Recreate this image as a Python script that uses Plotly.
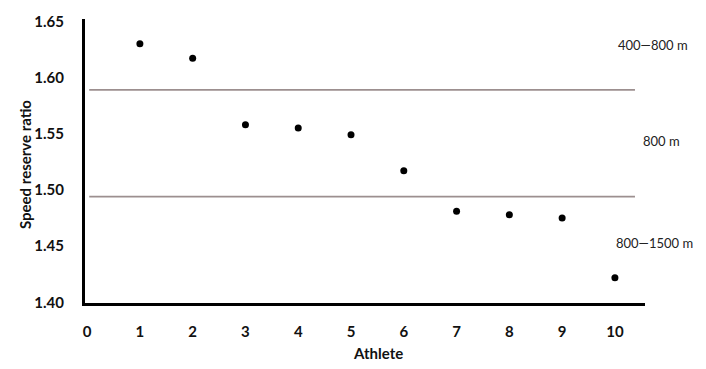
import plotly.graph_objects as go

athletes = [1, 2, 3, 4, 5, 6, 7, 8, 9, 10]
speed_reserve_ratio = [1.630, 1.617, 1.558, 1.555, 1.549, 1.517, 1.481, 1.478, 1.475, 1.422]
thresholds = [1.589, 1.494]
threshold_x = [0.04, 10.38]
x_ticks = [0, 1, 2, 3, 4, 5, 6, 7, 8, 9, 10]
y_ticks = [1.40, 1.45, 1.50, 1.55, 1.60, 1.65]
zone_labels = ["400\u2014800 m", "800 m", "800\u20141500 m"]
zone_label_xpx = [653, 661, 654]
zone_label_ypx = [45, 141, 243]

FONT = "Lato"
L, R, T, B = 85, 61, 19, 66
W, H = 706, 369
pw = W - L - R
ph = H - T - B


def px_x(px):
    return (px - L) / pw


def px_y(py):
    return (H - B - py) / ph


fig = go.Figure()
for t in thresholds:
    fig.add_trace(go.Scatter(x=threshold_x, y=[t, t], mode="lines",
                             line=dict(color="#9c8f8f", width=1.8),
                             showlegend=False, hoverinfo="skip"))
fig.add_trace(go.Scatter(x=athletes, y=speed_reserve_ratio, mode="markers",
                         marker=dict(color="black", size=7),
                         showlegend=False))

for lab, lx, ly in zip(zone_labels, zone_label_xpx, zone_label_ypx):
    fig.add_annotation(x=px_x(lx), y=px_y(ly), text=lab, showarrow=False, xref="paper", yref="paper",
                       xanchor="center", yanchor="middle",
                       font=dict(family=FONT, size=13, color="#222222"))

fig.add_annotation(x=px_x(25), y=px_y(165), xref="paper", yref="paper", text="<b>Speed reserve ratio</b>",
                   textangle=-90, showarrow=False, xanchor="center", yanchor="middle",
                   font=dict(family=FONT, size=15, color="#111111"))
fig.add_annotation(x=px_x(378), y=px_y(353), xref="paper", yref="paper",
                   text="<b>Athlete</b>", showarrow=False, xanchor="center", yanchor="middle",
                   font=dict(family=FONT, size=15, color="#111111"))

fig.update_xaxes(range=[-0.04, 10.57], tickvals=x_ticks, ticktext=[str(v) for v in x_ticks],
                 showgrid=False, zeroline=False, showline=True, linecolor="black", linewidth=3,
                 ticks="", ticklabelstandoff=13,
                 tickfont=dict(family=FONT, size=15, color="#111111", weight="bold"))
fig.update_yaxes(range=[1.3995, 1.652], tickvals=y_ticks, ticktext=[f"{v:.2f}" for v in y_ticks],
                 showgrid=False, zeroline=False, showline=True, linecolor="black", linewidth=3,
                 ticks="", ticklabelstandoff=15,
                 tickfont=dict(family=FONT, size=15, color="#111111", weight="bold"))

fig.update_layout(width=W, height=H, margin=dict(l=L, r=R, t=T, b=B),
                  plot_bgcolor="white", paper_bgcolor="white", showlegend=False)

fig.write_html("out.html", config={"displayModeBar": False},
               post_script="document.body.style.margin='0';")
